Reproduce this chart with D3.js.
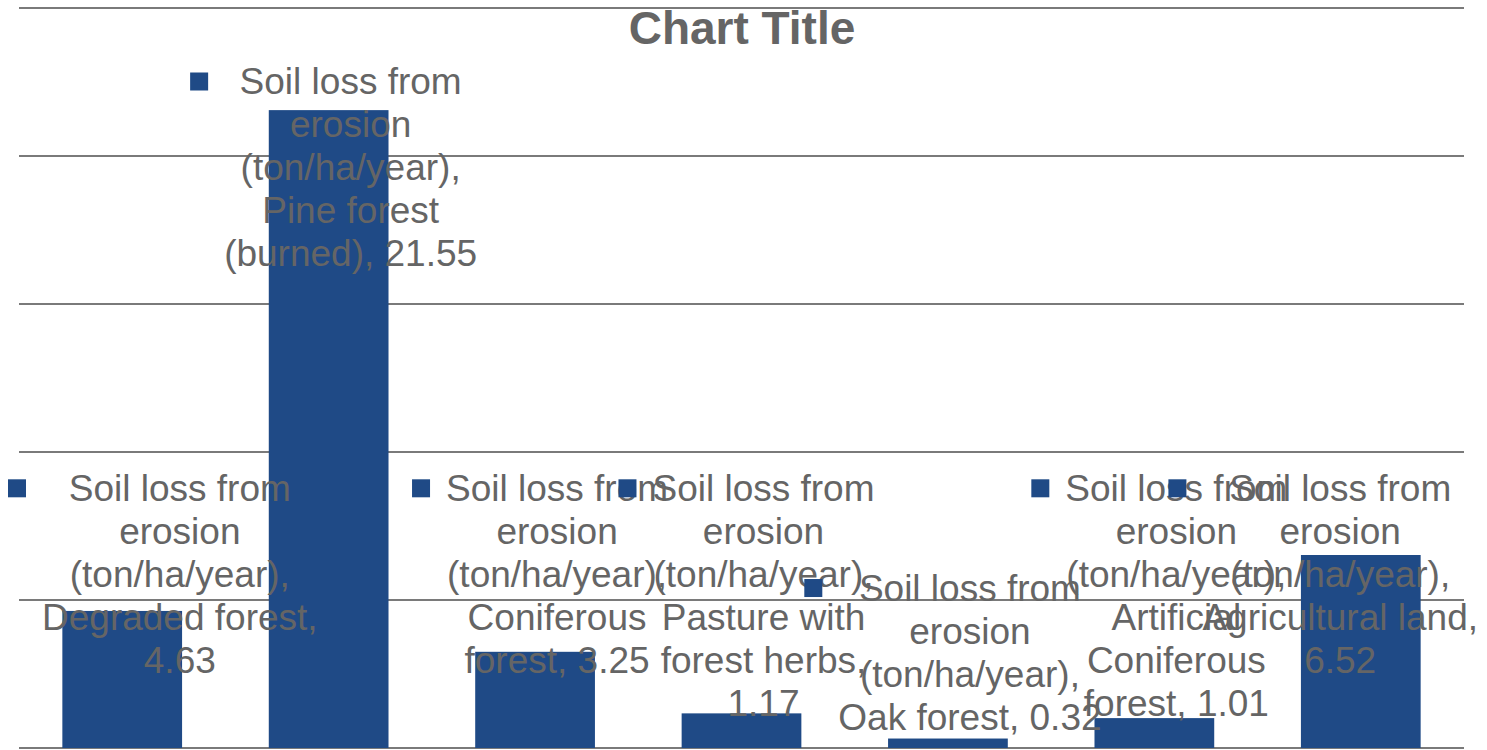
<!DOCTYPE html>
<html>
<head>
<meta charset="utf-8">
<script src="https://cdn.jsdelivr.net/npm/d3@7"></script>
<style>
  body { margin: 0; background: #fff; }
  svg { display: block; font-family: "Liberation Sans", Arial, sans-serif; }
</style>
</head>
<body>
<svg id="chart_svg" width="1487" height="750"></svg>
<script>
var seriesName = "Soil loss from erosion (ton/ha/year)";
var categories = ["Degraded forest", "Pine forest (burned)", "Coniferous forest", "Pasture with forest herbs", "Oak forest", "Artificial Coniferous forest", "Agricultural land"];
var values = [4.63, 21.55, 3.25, 1.17, 0.32, 1.01, 6.52];
var yTicks = [0, 5, 10, 15, 20, 25];

var W = 1487, H = 750;
var PLOT = { LEFT: 19, RIGHT: 1464, TOP: 8, BOTTOM: 748 };
var BAR_COLOR = "#1f4a86";
var TEXT_COLOR = "#656565";
var LABEL_SIZE = 37, LINE_H = 43, WRAP = 286;
var KEY = 18, KEY_GAP = 16;

window.addEventListener("load", draw);

function draw() {
  var svg = d3.select("#chart_svg");

  var x = d3.scaleBand().domain(categories).range([PLOT.LEFT, PLOT.RIGHT]).paddingInner(0.42).paddingOuter(0.21);
  var y = d3.scaleLinear().domain([0, 25]).range([PLOT.BOTTOM, PLOT.TOP]);

  // gridlines
  svg.append("g").selectAll("line").data(yTicks).enter().append("line")
    .attr("x1", PLOT.LEFT).attr("x2", PLOT.RIGHT)
    .attr("y1", function (d) { return y(d); }).attr("y2", function (d) { return y(d); })
    .attr("stroke", "#7a7a7a").attr("stroke-width", 2);

  // bars
  svg.append("g").selectAll("rect").data(values).enter().append("rect")
    .attr("x", function (d, i) { return x(categories[i]); })
    .attr("width", x.bandwidth())
    .attr("y", function (d) { return y(d); })
    .attr("height", function (d) { return y(0) - y(d); })
    .attr("fill", BAR_COLOR);

  svg.append("text").attr("x", 742).attr("y", 44).attr("text-anchor", "middle")
    .attr("font-size", 46).attr("font-weight", "bold").attr("fill", TEXT_COLOR)
    .text("Chart Title");

  // measuring helper for the word wrap
  var probe = svg.append("text").attr("font-size", LABEL_SIZE).attr("visibility", "hidden");
  function width(s) { probe.text(s); return probe.node().getComputedTextLength(); }
  function wrap(s) {
    var words = s.split(" "), lines = [], cur = "";
    words.forEach(function (w) {
      var t = cur ? cur + " " + w : w;
      if (cur && width(t) > WRAP) { lines.push(cur); cur = w; } else cur = t;
    });
    lines.push(cur);
    return lines;
  }

  var labels = svg.append("g");
  values.forEach(function (v, i) {
    var lines = wrap(seriesName + ", " + categories[i] + ", " + v.toFixed(2));
    var maxW = d3.max(lines, width);
    var h = lines.length * LINE_H;

    // horizontal: key + text block centred near the bar, kept inside the chart
    var cx = x(categories[i]) + x.bandwidth() / 2 + 22;
    var left = cx - maxW / 2 - KEY - KEY_GAP;
    var right = cx + maxW / 2;
    if (left < 8) cx += 8 - left;
    if (right > 1478) cx -= right - 1478;

    // vertical: above the bar, but not lower than the label floor; pinned under the title if no room
    var top = y(v) - h;
    if (top < 0) top = 60;
    else top = Math.max(top, y(9.5));

    var g = labels.append("g");
    g.selectAll("text").data(lines).enter().append("text")
      .attr("x", cx).attr("y", function (d, j) { return top + j * LINE_H + LINE_H / 2; })
      .attr("dy", "0.35em").attr("text-anchor", "middle")
      .attr("font-size", LABEL_SIZE).attr("fill", TEXT_COLOR)
      .text(function (d) { return d; });

    g.append("rect")
      .attr("x", cx - maxW / 2 - KEY_GAP - KEY).attr("y", top + LINE_H / 2 - KEY / 2)
      .attr("width", KEY).attr("height", KEY).attr("fill", BAR_COLOR);
  });
  probe.remove();
}
</script>
</body>
</html>
